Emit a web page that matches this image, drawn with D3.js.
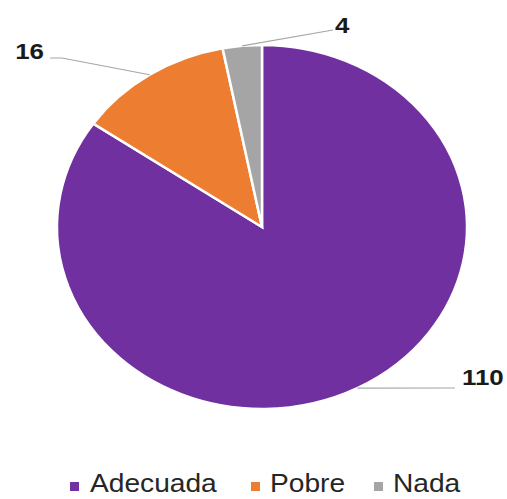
<!DOCTYPE html>
<html>
<head>
<meta charset="utf-8">
<script src="https://cdn.jsdelivr.net/npm/d3@7"></script>
<style>
html,body{margin:0;padding:0;background:#fff;}
svg{display:block;}
</style>
</head>
<body>
<svg id="chart" width="507" height="499"></svg>
<script>
// Data
const categories = ["Adecuada", "Pobre", "Nada"];
const values = [110, 16, 4];
const colors = ["#7030A0", "#ED7D31", "#A5A5A5"];

// Layout
const W = 507, H = 499;
const cx = 262, cy = 227;
const ry = 182, rx = 205;
const sx = rx / ry;
const labelFont = "'Liberation Sans', Arial, sans-serif";

const svg = d3.select("#chart");

const pie = d3.pie().sort(null).value(d => d)(values);
const arc = d3.arc().innerRadius(0).outerRadius(ry);

const pg = svg.append("g").attr("transform", `translate(${cx},${cy}) scale(${sx},1)`);
pg.selectAll("path").data(pie).enter().append("path")
  .attr("d", arc)
  .attr("fill", (d, i) => colors[i])
  .attr("stroke", "#fff")
  .attr("stroke-width", 2.5)
  .attr("vector-effect", "non-scaling-stroke");

// point on ellipse edge for mid-angle
function edgePoint(d) {
  const a = (d.startAngle + d.endAngle) / 2;
  return [cx + rx * Math.sin(a), cy - ry * Math.cos(a)];
}

function stretchedText(x, y, txt, size, weight, anchor, fill) {
  const g = svg.append("g").attr("transform", `translate(${x},${y}) scale(${sx},1)`);
  g.append("text")
    .attr("x", 0).attr("y", 0)
    .attr("text-anchor", anchor)
    .attr("font-family", labelFont)
    .attr("font-size", size)
    .attr("font-weight", weight)
    .attr("fill", fill)
    .text(txt);
}

// Label layout
const labelLayout = [
  { pts: [[455, 388]], lx: 462, ly: 385, anchor: "start" },
  { pts: [[62, 58], [50, 58]], lx: 44, ly: 59, anchor: "end" },
  { pts: [[333, 30]], lx: 335, ly: 33, anchor: "start" }
];

pie.forEach((d, i) => {
  const L = labelLayout[i];
  const p0 = edgePoint(d);
  const pts = [p0].concat(L.pts);
  svg.append("path")
    .attr("d", d3.line()(pts))
    .attr("fill", "none")
    .attr("stroke", "#A6A6A6")
    .attr("stroke-width", 1.2);
  stretchedText(L.lx, L.ly, String(values[i]), 23, "bold", L.anchor, "#1a1a1a");
});

// Legend
const legendItems = [
  { sq: 70, tx: 90 },
  { sq: 251, tx: 270 },
  { sq: 374, tx: 393 }
];
categories.forEach((c, i) => {
  const it = legendItems[i];
  svg.append("rect")
    .attr("x", it.sq).attr("y", 482)
    .attr("width", 9).attr("height", 9)
    .attr("fill", colors[i]);
  stretchedText(it.tx, 492, c, 25, "normal", "start", "#262626");
});
</script>
</body>
</html>
